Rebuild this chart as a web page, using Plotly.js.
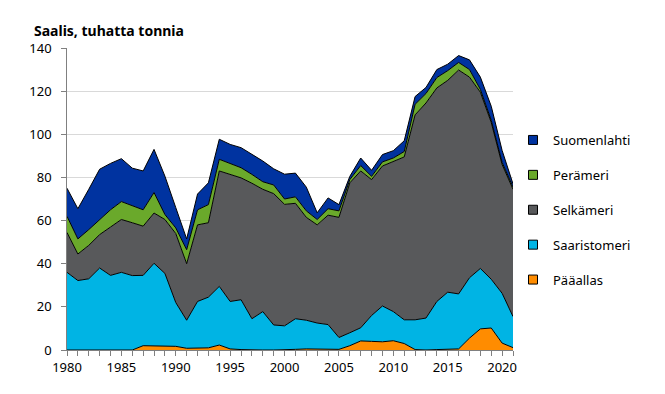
<!DOCTYPE html>
<html>
<head>
<meta charset="utf-8">
<script src="https://cdn.plot.ly/plotly-3.0.1.min.js"></script>
<style>html,body{margin:0;padding:0;background:#fff;}#chart{width:665px;height:394px;}</style>
</head>
<body>
<div id="chart"></div>
<script>
const years = [1980,1981,1982,1983,1984,1985,1986,1987,1988,1989,1990,1991,1992,1993,1994,1995,1996,1997,1998,1999,2000,2001,2002,2003,2004,2005,2006,2007,2008,2009,2010,2011,2012,2013,2014,2015,2016,2017,2018,2019,2020,2021];

const paaallas = [0,0,0,0,0,0,0,2,2,2,1.7,0.8,1,1,2.3,0.5,0.2,0,0,0,0,0.3,0.5,0.5,0.3,0.3,2,4.2,4,3.8,4.3,3,0.2,0,0.2,0.5,0.5,5.5,9.8,10.2,3.2,1.1];
const saaristomeri = [36,32.2,33,38,34.6,36,34.5,32.6,38.2,33.5,20.3,13,21.5,23.5,27.2,22,23.1,14.5,17.8,11.6,11.2,14.2,13.3,12,11.5,5.5,6,6.1,12,16.6,13.5,11,13.8,14.8,22.3,26.3,25.5,28,28,22.6,23.1,14.4];
const selkameri = [18.5,12.3,15.5,15.5,22.4,24.5,24.5,22.8,23.3,25,32,26.2,35.5,34.5,53.5,58.9,56.5,62.8,56.7,60.9,56.3,53.5,47.7,45.5,50.7,55.7,69.5,72.7,63,64.9,69.5,75.5,95,99.7,99,98.2,103.8,93,81.7,72.7,59.7,59];
const perameri = [7.5,7,7.3,7,8,8.3,7.8,7.6,9.5,2.3,2.6,6.5,7,8.4,5.4,5,4.7,4.1,3.5,4,2.5,3,3,2.5,3,3,1.5,2.5,1.5,1.9,1.7,2.5,4.9,4.4,4.8,4.5,3.5,3.5,1.3,1,1,1];
const suomenlahti = [13,14,18.7,23.3,21.5,19.9,17.5,18,20,17.8,9.4,5,7.3,10.1,9.3,8.9,9.3,9.3,9.6,7.5,11.5,11,11,3.1,5,2.9,1.5,3.5,2.8,3.4,3.4,5,3.6,2.8,3.7,3,3.2,4.5,5.7,6.5,5.5,1.5];

const seriesNames = ["Pääallas","Saaristomeri","Selkämeri","Perämeri","Suomenlahti"];
const seriesColors = ["#FF8C00","#00B4E4","#58595B","#6AA92B","#0033A0"];
const seriesData = [paaallas, saaristomeri, selkameri, perameri, suomenlahti];

const traces = [];
seriesData.forEach((vals, i) => {
  traces.push({
    type: "scatter", mode: "lines", x: years, y: vals, name: seriesNames[i],
    stackgroup: "one", fillcolor: seriesColors[i],
    line: {color: "#000000", width: 1, shape: "linear"},
    showlegend: false, hoverinfo: "skip"
  });
});
// legend entries (top to bottom)
for (let i = seriesNames.length - 1; i >= 0; i--) {
  traces.push({
    type: "scatter", mode: "markers", x: [null], y: [null], name: seriesNames[i],
    legendgroup: "g" + i,
    marker: {symbol: "square", size: 9, color: seriesColors[i], line: {color: "#000", width: 1}},
    showlegend: true
  });
}

const layout = {
  width: 665, height: 394,
  margin: {l: 67, r: 142, t: 48, b: 44},
  paper_bgcolor: "#fff", plot_bgcolor: "#fff",
  font: {family: "Noto Sans, Open Sans, sans-serif", size: 13, color: "#000"},
  title: {
    text: "<b>Saalis, tuhatta tonnia</b>",
    font: {family: "Noto Sans, Open Sans, sans-serif", size: 14, color: "#000"},
    x: 34/665, xanchor: "left", xref: "container",
    y: 1 - 31/394, yanchor: "middle", yref: "container"
  },
  xaxis: {
    range: [1980, 2021], tickmode: "linear", tick0: 1980, dtick: 5,
    ticks: "outside", ticklen: 5, tickcolor: "#808080",
    showline: true, linecolor: "#808080", linewidth: 1,
    showgrid: false, zeroline: false,
    tickfont: {size: 13, color: "#000"},
    minor: {dtick: 1, tick0: 1980, ticks: "outside", ticklen: 5, tickcolor: "#808080", showgrid: false}
  },
  yaxis: {
    range: [0, 140], tickmode: "linear", tick0: 0, dtick: 20,
    ticks: "outside", ticklen: 5, tickcolor: "#808080",
    showline: true, linecolor: "#808080", linewidth: 1,
    showgrid: true, gridcolor: "#d9d9d9", gridwidth: 1, zeroline: false,
    ticksuffix: "\u00a0\u00a0",
    tickfont: {size: 13, color: "#000"}
  },
  showlegend: true,
  legend: {
    xref: "container", yref: "container",
    x: 513/665, xanchor: "left", y: 1 - 125/394, yanchor: "top",
    traceorder: "grouped", tracegroupgap: 15,
    font: {size: 13, color: "#000"},
    bgcolor: "rgba(0,0,0,0)"
  },
  hovermode: false
};

Plotly.newPlot("chart", traces, layout, {staticPlot: true, displayModeBar: false});
</script>
</body>
</html>
